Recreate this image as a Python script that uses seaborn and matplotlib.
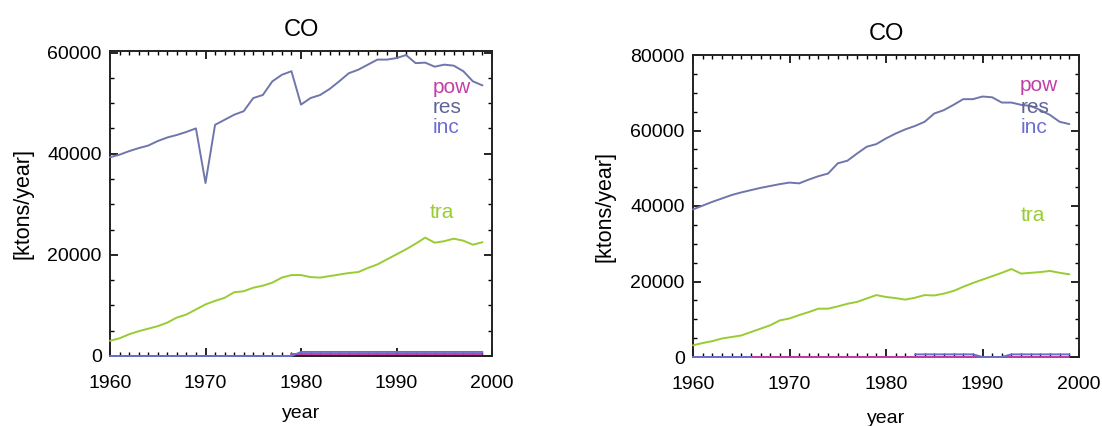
import numpy as np
import pandas as pd
import matplotlib
matplotlib.use("Agg")
import matplotlib.pyplot as plt
from matplotlib.ticker import MultipleLocator
import seaborn as sns

years = list(range(1960, 2000))
nan = float("nan")

# Left panel: CO emissions by sector [ktons/year]
res_a = [39300, 39800, 40500, 41100, 41600, 42500, 43200, 43700, 44300, 45000,
         34200, 45700, 46700, 47700, 48400, 51000, 51600, 54300, 55600, 56300,
         49700, 51000, 51600, 52800, 54300, 55900, 56600, 57600, 58600, 58600,
         58900, 59500, 57900, 58000, 57200, 57600, 57400, 56300, 54300, 53500]
tra_a = [3000, 3500, 4300, 4900, 5400, 5900, 6600, 7600, 8200, 9200,
         10200, 10900, 11500, 12600, 12800, 13500, 13900, 14500, 15500, 16000,
         16000, 15600, 15500, 15800, 16100, 16400, 16600, 17400, 18100, 19100,
         20100, 21100, 22200, 23400, 22400, 22700, 23200, 22800, 22000, 22500]
inc_a = [0] * 20 + [800] * 20
pow_a = [nan] * 19 + [300] * 21

# Right panel: CO emissions by sector [ktons/year]
res_b = [39100, 40100, 41100, 42000, 42900, 43600, 44200, 44800, 45300, 45800,
         46200, 46000, 47000, 47900, 48600, 51300, 52000, 53900, 55700, 56400,
         57900, 59200, 60300, 61200, 62300, 64500, 65400, 66800, 68300, 68300,
         69000, 68800, 67400, 67400, 66800, 66500, 65400, 64100, 62300, 61700]
tra_b = [3100, 3700, 4200, 4900, 5300, 5700, 6600, 7500, 8400, 9700,
         10200, 11100, 11900, 12800, 12800, 13400, 14100, 14600, 15500, 16400,
         15900, 15600, 15200, 15700, 16400, 16300, 16800, 17500, 18600, 19600,
         20500, 21400, 22300, 23300, 22100, 22300, 22500, 22800, 22300, 21900]
inc_b = [0] * 7 + [nan] * 16 + [700] * 7 + [0] * 3 + [700] * 7
pow_b = [0] * 40

sectors = ["pow", "inc", "res", "tra"]
line_colors = {"pow": "#c23fa6", "res": "#6f76ab", "inc": "#6a6fcf", "tra": "#99cc33"}
text_colors = {"pow": "#c23fa6", "res": "#5f6594", "inc": "#6a6fcf", "tra": "#99cc33"}

panels = [
    dict(series={"pow": pow_a, "res": res_a, "inc": inc_a, "tra": tra_a},
         rect=[110 / 1102, 70 / 426, 382 / 1102, 305 / 426], ylim=(0, 60300),
         labels={"pow": (1993.8, 53000), "res": (1993.8, 49100),
                 "inc": (1993.8, 45200), "tra": (1993.5, 28300)},
         xlab_y=-0.16),
    dict(series={"pow": pow_b, "res": res_b, "inc": inc_b, "tra": tra_b},
         rect=[693 / 1102, 69 / 426, 386 / 1102, 302 / 426], ylim=(0, 80000),
         labels={"pow": (1993.9, 72000), "res": (1993.9, 66200),
                 "inc": (1993.9, 60700), "tra": (1994.0, 37600)},
         xlab_y=-0.175),
]


def long_frame(series):
    """Stack the sector series; gaps (NaN) start a new line segment."""
    frames = []
    for s in sectors:
        vals = pd.Series(series[s], dtype=float)
        seg = vals.isna().cumsum()
        frames.append(pd.DataFrame({"year": years, "value": vals, "sector": s,
                                    "segment": [f"{s}-{k}" for k in seg]}))
    return pd.concat(frames, ignore_index=True).dropna(subset=["value"])


sns.set_theme(style="ticks")
plt.rcParams["font.family"] = ["Liberation Sans", "DejaVu Sans"]
plt.rcParams["text.color"] = "black"
plt.rcParams["axes.labelcolor"] = "black"
plt.rcParams["xtick.color"] = "black"
plt.rcParams["ytick.color"] = "black"

fig = plt.figure(figsize=(11.02, 4.26), dpi=100)

for p in panels:
    ax = fig.add_axes(p["rect"])
    df = long_frame(p["series"])
    sns.lineplot(data=df, x="year", y="value", hue="sector", units="segment",
                 palette=line_colors, hue_order=sectors,
                 estimator=None, legend=False, linewidth=1.4, ax=ax,
                 clip_on=False, zorder=3)

    ax.set_xlim(1960, 2000)
    ax.set_ylim(*p["ylim"])
    ax.xaxis.set_major_locator(MultipleLocator(10))
    ax.xaxis.set_minor_locator(MultipleLocator(1))
    ax.yaxis.set_major_locator(MultipleLocator(20000))
    ax.yaxis.set_minor_locator(MultipleLocator(5000))
    ax.tick_params(which="both", direction="in", top=True, right=True,
                   colors="black", labelsize=14)
    ax.tick_params(which="major", length=6, width=1.2)
    ax.tick_params(which="minor", length=3, width=1.0)
    ax.tick_params(axis="x", pad=14)
    ax.tick_params(axis="y", pad=6)
    for sp in ax.spines.values():
        sp.set_linewidth(1.4)
        sp.set_color("#222222")

    fig.canvas.draw()
    ylabels = ax.get_yticklabels()
    ylabels[0].set_va("baseline")
    ylabels[-1].set_va("top")

    ax.set_title("CO", fontsize=17, pad=11, color="black")
    ax.set_xlabel("year", fontsize=14)
    ax.xaxis.set_label_coords(0.5, p["xlab_y"])
    ax.set_ylabel("[ktons/year]", fontsize=15.5, va="center")
    ax.yaxis.set_label_coords(-0.228, 0.5)

    for s, (x, y) in p["labels"].items():
        ax.text(x, y, s, color=text_colors[s], fontsize=15, ha="left", va="center")

fig.savefig("out.png", dpi=100)
